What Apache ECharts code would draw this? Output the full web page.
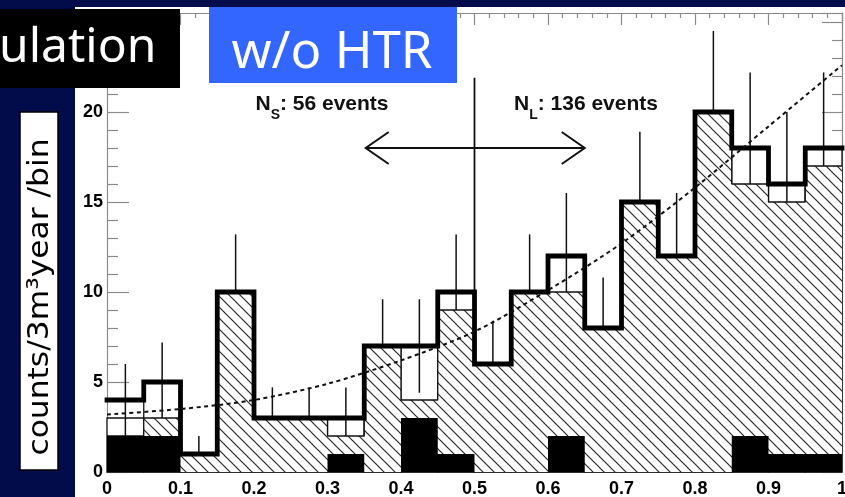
<!DOCTYPE html>
<html>
<head>
<meta charset="utf-8">
<script src="https://cdn.jsdelivr.net/npm/echarts@6/dist/echarts.min.js"></script>
<style>
  html, body { margin: 0; padding: 0; background: #020c4a; overflow: hidden; }
  #panel { position: absolute; left: 75px; top: 7px; width: 770px; height: 490px; background: #ffffff; }
  #chart { position: absolute; left: 0; top: 0; width: 845px; height: 497px; }
</style>
</head>
<body>
<div id="panel"></div>
<div id="chart"></div>
<script>
// Histogram bins (lower edges) and bin width
const binStart = [0, 0.05, 0.1, 0.15, 0.2, 0.25, 0.3, 0.35, 0.4, 0.45,
                  0.5, 0.55, 0.6, 0.65, 0.7, 0.75, 0.8, 0.85, 0.9, 0.95];
const binWidth = 0.05;

// Counts per bin
const totalCounts   = [4, 5, 1, 10, 3, 3, 3, 7, 7, 10, 6, 10, 12, 8, 15, 12, 20, 18, 16, 18];
const boxCounts     = [3, 5, 1, 10, 3, 3, 3, 7, 7, 10, 6, 10, 12, 8, 15, 12, 20, 18, 16, 18];
const hatchedCounts = [2, 3, 1, 10, 3, 3, 2, 7, 4, 9, 6, 10, 10, 8, 15, 12, 20, 16, 15, 17];
const blackCounts   = [2, 2, 0, 0, 0, 0, 1, 0, 3, 1, 0, 0, 2, 0, 0, 0, 0, 2, 1, 1];

// Error bar ends per bin
const errHigh = [6.0, 7.2, 2.0, 13.2, 4.7, 4.7, 4.7, 9.6, 9.6, 13.2, 8.4, 13.2, 15.5, 10.8, 18.9, 15.5, 24.5, 22.2, 20.0, 22.2];
const errLow  = [2.0, 2.8, 0.0, 6.8, 1.3, 1.3, 1.3, 4.4, 4.4, 6.8, 3.6, 6.8, 8.5, 5.2, 11.1, 8.5, 15.5, 13.8, 12.0, 13.8];

// Dashed expectation curve
const curveX = [0, 0.1, 0.2, 0.3, 0.4, 0.5, 0.6, 0.7, 0.8, 0.9, 1.0];
const curveY = [3.2, 3.5, 4.0, 4.9, 6.2, 7.8, 10.1, 12.7, 15.8, 19.2, 22.6];

// Divider between short and long samples, and the double arrow
const dividerX = 0.5;
const dividerTop = 21.9;
const arrowFrom = 0.352;
const arrowTo = 0.65;
const arrowLevel = 18;

// Tick labels
const xTickLabels = ['0', '0.1', '0.2', '0.3', '0.4', '0.5', '0.6', '0.7', '0.8', '0.9', '1'];
const yTickLabels = ['0', '5', '10', '15', '20', ''];

// Diagonal hatch tile
function makeHatch() {
  const s = 11;
  const c = document.createElement('canvas');
  c.width = s; c.height = s;
  const g = c.getContext('2d');
  g.fillStyle = '#ffffff';
  g.fillRect(0, 0, s, s);
  g.strokeStyle = '#262626';
  g.lineWidth = 1.15;
  for (const off of [-s, 0, s]) {
    g.beginPath();
    g.moveTo(off - 1, -1);
    g.lineTo(off + s + 1, s + 1);
    g.stroke();
  }
  return c;
}
const hatchPattern = { image: makeHatch(), repeat: 'repeat' };

const binData = (vals) => binStart.map((x, i) => [x, vals[i]]);
const stepData = (vals) => binStart.map((x, i) => [x, vals[i]])
  .concat([[binStart[binStart.length - 1] + binWidth, vals[vals.length - 1]]]);

// One white box per bin, outlined thinly
function boxItem(params, api) {
  const x0 = api.value(0);
  const v = api.value(1);
  if (!(v > 0)) return null;
  const p0 = api.coord([x0, v]);
  const p1 = api.coord([x0 + binWidth, 0]);
  return {
    type: 'rect',
    shape: { x: p0[0], y: p0[1], width: p1[0] - p0[0], height: p1[1] - p0[1] },
    style: { fill: '#ffffff', stroke: '#111', lineWidth: 1.3 }
  };
}

// Whole histogram as a single filled step polygon (no seams between bins)
function stepPolygon(vals, fill) {
  return function (params, api) {
    const pts = [api.coord([binStart[0], 0])];
    binStart.forEach((x, i) => {
      pts.push(api.coord([x, vals[i]]));
      pts.push(api.coord([x + binWidth, vals[i]]));
    });
    pts.push(api.coord([binStart[binStart.length - 1] + binWidth, 0]));
    return { type: 'polygon', shape: { points: pts }, style: { fill: fill } };
  };
}

const chart = echarts.init(document.getElementById('chart'), null, { renderer: 'canvas' });

const axisGray = '#8a8a8a';
const labelFont = { color: '#000', fontWeight: 'bold', fontSize: 18, fontFamily: 'Liberation Sans, Arial, sans-serif' };

const option = {
  backgroundColor: 'transparent',
  animation: false,
  grid: { left: 107, right: 3, top: 13, bottom: 25, containLabel: false, outerBoundsMode: 'none' },
  xAxis: [
    {
      type: 'value', min: 0, max: 1, interval: 0.1, position: 'bottom',
      axisLine: { show: true, onZero: false, lineStyle: { color: axisGray, width: 1 } },
      axisTick: { show: true, inside: true, length: 12, lineStyle: { color: axisGray } },
      minorTick: { show: true, splitNumber: 5, length: 6, lineStyle: { color: axisGray } },
      axisLabel: Object.assign({ margin: 8, formatter: (v, i) => xTickLabels[i] }, labelFont),
      splitLine: { show: false }
    },
    {
      type: 'value', min: 0, max: 1, interval: 0.1, position: 'top',
      axisLine: { show: true, onZero: false, lineStyle: { color: axisGray, width: 1.2 } },
      axisTick: { show: true, inside: true, length: 12, lineStyle: { color: axisGray, width: 1.2 } },
      minorTick: { show: true, splitNumber: 5, length: 5, lineStyle: { color: axisGray, width: 1.2 } },
      axisLabel: { show: false },
      splitLine: { show: false }
    }
  ],
  yAxis: [
    {
      type: 'value', min: 0, max: 25.5, interval: 5, position: 'left',
      axisLine: { show: true, onZero: false, lineStyle: { color: axisGray, width: 1.2 } },
      axisTick: { show: true, inside: true, length: 22, lineStyle: { color: axisGray, width: 1.2 } },
      minorTick: { show: true, splitNumber: 5, length: 11, lineStyle: { color: axisGray, width: 1.2 } },
      axisLabel: Object.assign({ margin: 4, formatter: (v, i) => yTickLabels[i] || '' }, labelFont),
      splitLine: { show: false }
    },
    {
      type: 'value', min: 0, max: 25.5, interval: 5, position: 'right',
      axisLine: { show: true, onZero: false, lineStyle: { color: axisGray, width: 1.2 } },
      axisTick: { show: true, inside: true, length: 20, lineStyle: { color: axisGray, width: 1.2 } },
      minorTick: { show: true, splitNumber: 5, length: 10, lineStyle: { color: axisGray, width: 1.2 } },
      axisLabel: { show: false },
      splitLine: { show: false }
    }
  ],
  series: [
    {
      name: 'boxes', type: 'custom', z: 3, silent: true,
      renderItem: boxItem,
      encode: { x: 0, y: 1 },
      data: binData(boxCounts)
    },
    {
      name: 'errors', type: 'custom', z: 4, silent: true,
      renderItem: function (params, api) {
        const i = params.dataIndex;
        const xc = binStart[i] + binWidth / 2;
        const a = api.coord([xc, errLow[i]]);
        const b = api.coord([xc, errHigh[i]]);
        return { type: 'line', shape: { x1: a[0], y1: a[1], x2: b[0], y2: b[1] },
                 style: { stroke: '#111', lineWidth: 1.5 } };
      },
      encode: { x: 0, y: 1 },
      data: binData(totalCounts)
    },
    {
      name: 'divider', type: 'custom', z: 4, silent: true,
      renderItem: function (params, api) {
        const a = api.coord([dividerX, 0]);
        const b = api.coord([dividerX, dividerTop]);
        return { type: 'line', shape: { x1: a[0], y1: a[1], x2: b[0], y2: b[1] },
                 style: { stroke: '#111', lineWidth: 1.8 } };
      },
      encode: { x: 0, y: 1 },
      data: [[dividerX, dividerTop]]
    },
    {
      name: 'hatched', type: 'custom', z: 5, silent: true,
      renderItem: stepPolygon(hatchedCounts, hatchPattern),
      encode: { x: 0, y: 1 },
      data: [[binStart[0], hatchedCounts[0]]]
    },
    {
      name: 'hatchedOutline', type: 'line', z: 6, silent: true, step: 'end',
      symbol: 'none', lineStyle: { color: '#111', width: 1.3 },
      data: stepData(hatchedCounts)
    },
    {
      name: 'black', type: 'custom', z: 7, silent: true,
      renderItem: stepPolygon(blackCounts, '#000000'),
      encode: { x: 0, y: 1 },
      data: [[binStart[0], blackCounts[0]]]
    },
    {
      name: 'total', type: 'line', z: 8, silent: true, step: 'end',
      symbol: 'none', lineStyle: { color: '#000', width: 4.8, join: 'miter', cap: 'square' },
      data: stepData(totalCounts)
    },
    {
      name: 'expectation', type: 'line', z: 9, silent: true, smooth: 0.3,
      symbol: 'none', lineStyle: { color: '#111', width: 2, type: [4, 3.5] },
      data: curveX.map((x, i) => [x, curveY[i]])
    },
    {
      name: 'arrow', type: 'custom', z: 9, silent: true,
      renderItem: function (params, api) {
        const a = api.coord([arrowFrom, arrowLevel]);
        const b = api.coord([arrowTo, arrowLevel]);
        const hl = 23, hw = 16;
        const st = { stroke: '#111', lineWidth: 2, fill: null };
        return {
          type: 'group',
          children: [
            { type: 'line', shape: { x1: a[0], y1: a[1], x2: b[0], y2: b[1] }, style: st },
            { type: 'polyline', shape: { points: [[a[0] + hl, a[1] - hw], [a[0], a[1]], [a[0] + hl, a[1] + hw]] }, style: st },
            { type: 'polyline', shape: { points: [[b[0] - hl, b[1] - hw], [b[0], b[1]], [b[0] - hl, b[1] + hw]] }, style: st }
          ]
        };
      },
      encode: { x: 0, y: 1 },
      data: [[arrowFrom, arrowLevel]]
    }
  ],
  graphic: [
    {
      type: 'text', x: 322, y: 104, z: 100, silent: true,
      style: {
        text: '{n|N}{s|S}{n|: 56 events}', align: 'center', verticalAlign: 'middle',
        rich: {
          n: { fontFamily: 'Liberation Sans, Arial, sans-serif', fontWeight: 'bold', fontSize: 21, lineHeight: 36, fill: '#111' },
          s: { fontFamily: 'Liberation Sans, Arial, sans-serif', fontWeight: 'bold', fontSize: 14, lineHeight: 14, verticalAlign: 'bottom', fill: '#111' }
        }
      }
    },
    {
      type: 'text', x: 586, y: 104, z: 100, silent: true,
      style: {
        text: '{n|N}{s|L}{n|: 136 events}', align: 'center', verticalAlign: 'middle',
        rich: {
          n: { fontFamily: 'Liberation Sans, Arial, sans-serif', fontWeight: 'bold', fontSize: 21, lineHeight: 36, fill: '#111' },
          s: { fontFamily: 'Liberation Sans, Arial, sans-serif', fontWeight: 'bold', fontSize: 14, lineHeight: 14, verticalAlign: 'bottom', fill: '#111' }
        }
      }
    },
    {
      type: 'rect', z: 100, silent: true,
      shape: { x: 0, y: 9, width: 180, height: 79 },
      style: { fill: '#000000' }
    },
    {
      type: 'text', x: -1, y: 48, z: 101, silent: true,
      style: { text: 'ulation', fill: '#ffffff', font: '48px "Noto Sans", sans-serif', align: 'left', verticalAlign: 'middle' }
    },
    {
      type: 'rect', z: 100, silent: true,
      shape: { x: 209, y: 7, width: 248, height: 76 },
      style: { fill: '#3366ff' }
    },
    {
      type: 'text', x: 332, y: 53, z: 101, silent: true,
      style: { text: 'w/o HTR', fill: '#ffffff', font: '51px "Noto Sans", sans-serif', align: 'center', verticalAlign: 'middle' }
    },
    {
      type: 'rect', z: 100, silent: true,
      shape: { x: 20, y: 112, width: 38, height: 358 },
      style: { fill: '#ffffff', stroke: '#000', lineWidth: 1.5 }
    },
    {
      type: 'text', x: 40, y: 297, z: 101, rotation: Math.PI / 2, scaleX: 1.08, silent: true,
      style: { text: 'counts/3m³year /bin', fill: '#000', font: '29px "DejaVu Sans", sans-serif', align: 'center', verticalAlign: 'middle' }
    }
  ]
};

chart.setOption(option);
</script>
</body>
</html>
